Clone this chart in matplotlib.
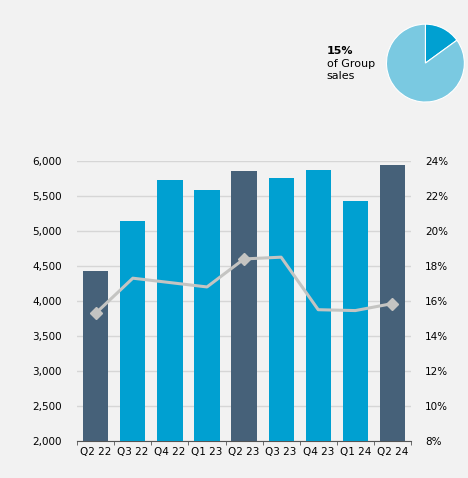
import matplotlib.pyplot as plt
import numpy as np

# data
quarters = ['Q2 22', 'Q3 22', 'Q4 22', 'Q1 23', 'Q2 23', 'Q3 23', 'Q4 23', 'Q1 24', 'Q2 24']
sales = [4425, 5140, 5730, 5585, 5860, 5760, 5875, 5430, 5940]
margin = [15.3, 17.3, 17.05, 16.8, 18.4, 18.5, 15.5, 15.45, 15.85]
highlight = [True, False, False, False, True, False, False, False, True]
pie_share = [15, 85]

bg = '#f2f2f2'
dark = '#466179'
light = '#00a0d1'
line_col = '#c4c4c2'

plt.rcParams['font.family'] = 'DejaVu Sans'
fig = plt.figure(figsize=(4.68, 4.78), dpi=100, facecolor=bg)

ax = fig.add_axes([0.165, 0.0774, 0.713, 0.586], facecolor=bg)
x = np.arange(len(quarters))
cols = [dark if h else light for h in highlight]
ax.bar(x, sales, width=0.68, color=cols, zorder=3)
ax.set_ylim(2000, 6000)
ax.set_xlim(-0.5, len(quarters) - 0.5)
ax.set_yticks(np.arange(2000, 6001, 500))
ax.set_yticklabels([f'{v:,}' for v in range(2000, 6001, 500)])
ax.yaxis.grid(True, color='#d6d6d6', lw=1, zorder=0)
ax.set_xticks(x)
ax.set_xticklabels(quarters)
ax.set_xticks(np.arange(-0.5, len(quarters)), minor=True)
ax.tick_params(axis='x', which='major', length=0, labelsize=7.5, pad=4)
ax.tick_params(axis='x', which='minor', length=3, color='#555555', direction='out')
ax.tick_params(axis='y', length=0, labelsize=7.5, pad=11)
for s in ['top', 'right', 'left']:
    ax.spines[s].set_visible(False)
ax.spines['bottom'].set_color('#555555')

ax2 = ax.twinx()
ax2.plot(x, margin, color=line_col, lw=2.2, zorder=4)
hx = [i for i in x if highlight[i]]
ax2.plot(hx, [margin[i] for i in hx], 'D', color=line_col, ms=6, zorder=5)
ax2.set_ylim(8, 24)
ax2.set_yticks(np.arange(8, 25, 2))
ax2.set_yticklabels([f'{v}%' for v in range(8, 25, 2)])
ax2.tick_params(axis='y', length=0, labelsize=7.5, pad=10)
for s in ['top', 'right', 'left', 'bottom']:
    ax2.spines[s].set_visible(False)

# pie inset
pax = fig.add_axes([0.805, 0.766, 0.208, 0.204])
pax.pie(pie_share, colors=[light, '#7ac9e1'], startangle=90, counterclock=False,
        wedgeprops=dict(edgecolor='white', linewidth=0.8))
pax.set_aspect('equal')

fig.text(0.698, 0.893, '15%', fontsize=8, fontweight='bold', va='center')
fig.text(0.698, 0.867, 'of Group', fontsize=8, va='center')
fig.text(0.698, 0.840, 'sales', fontsize=8, va='center')

fig.savefig('out.png', dpi=100, facecolor=bg)
